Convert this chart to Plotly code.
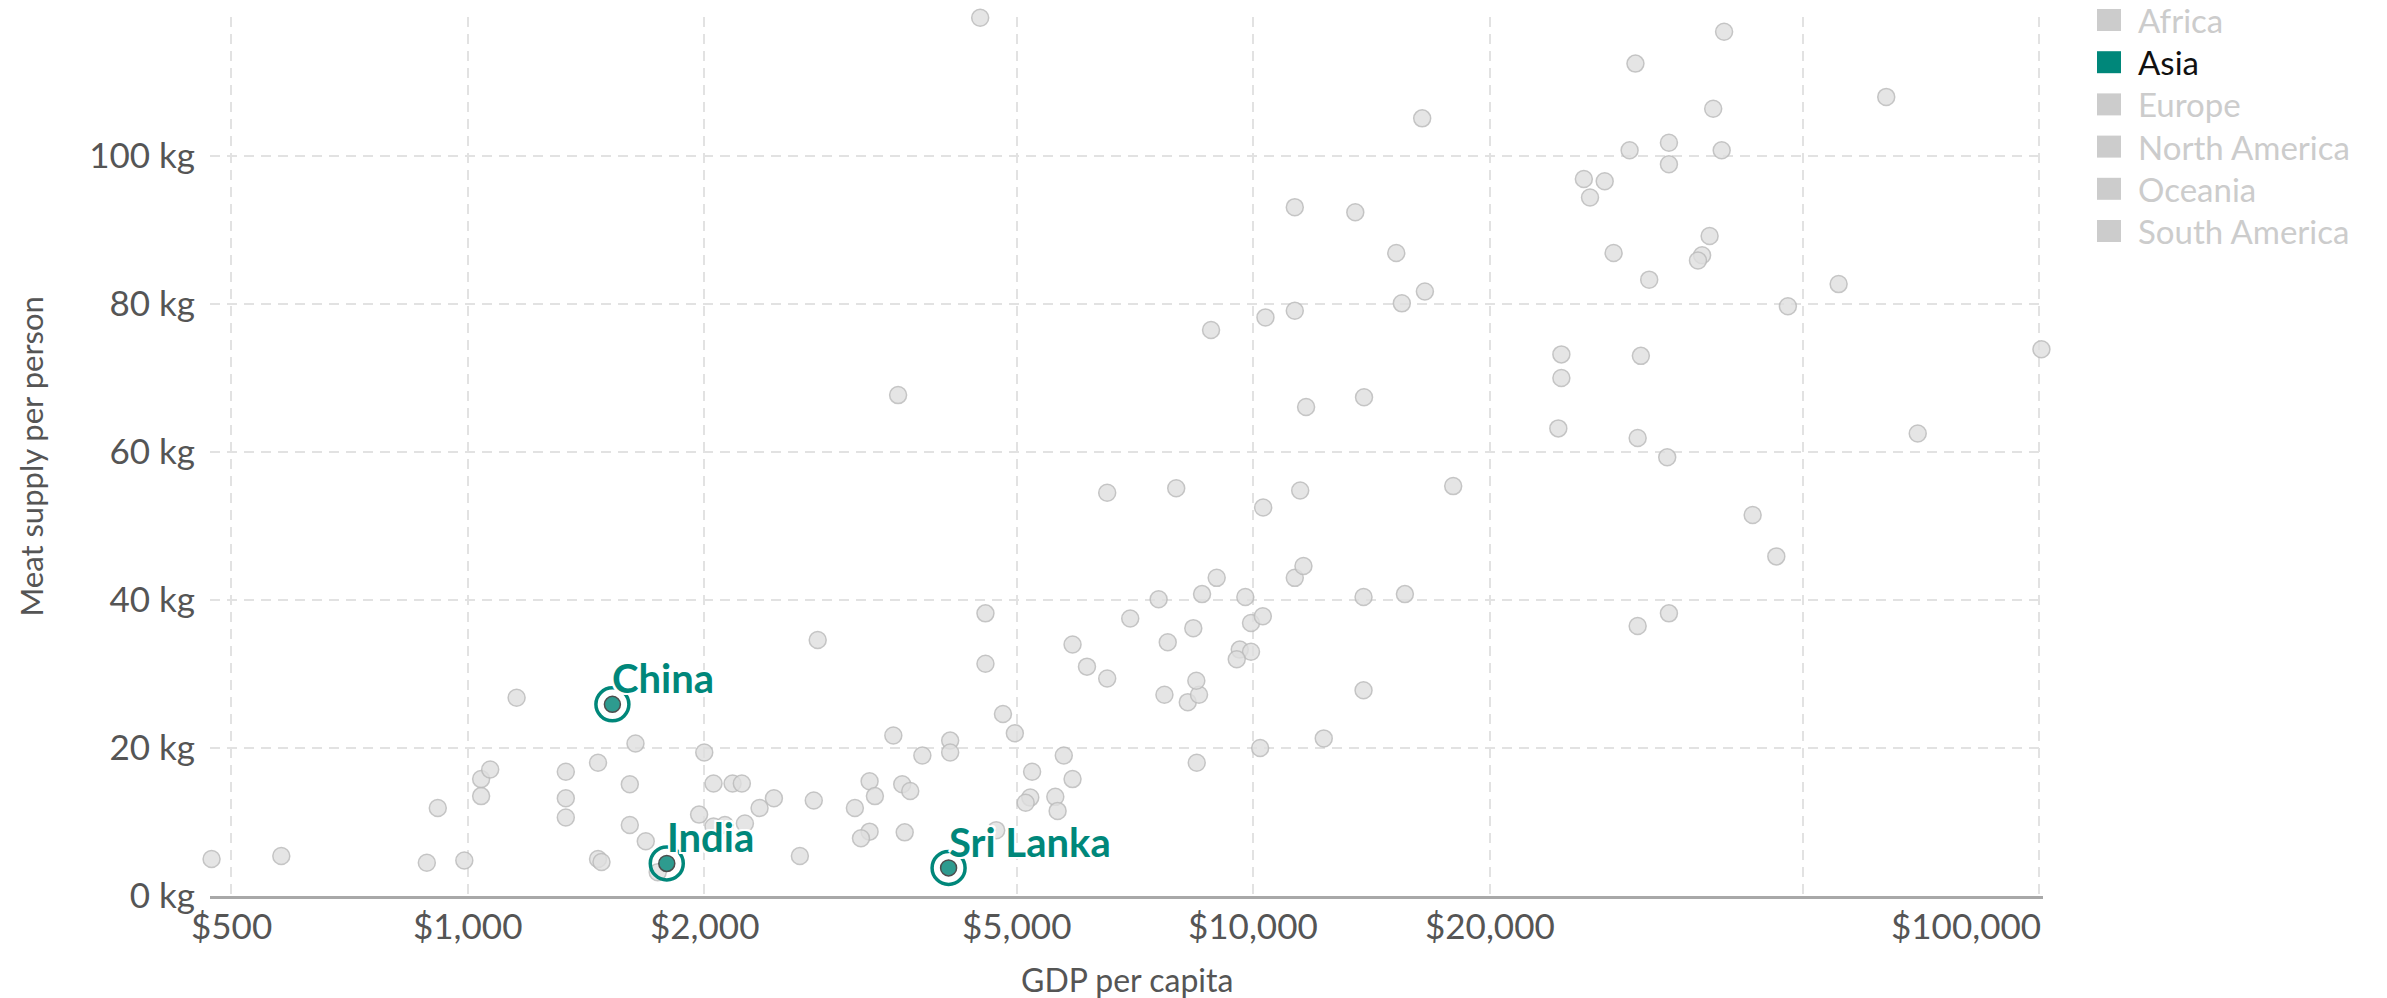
import math
import plotly.graph_objects as go

# ── data ─────────────────────────────────────────────
gdp_other = [
    472, 579, 887, 990, 916, 1040, 1040, 1068, 1154, 1333, 1333, 1333, 1465, 1465, 1480,
    1608, 1608, 1635, 1685, 1745, 2000, 1970, 2055, 2173, 2233, 2453, 2352, 2055, 2125, 2253,
    2647, 2757, 3247, 3298, 3110, 3247, 3166, 3573, 3658, 3599, 3481, 4112, 4112, 3790, 4706,
    5200, 5130, 5596, 5634, 5228, 5886, 5737, 4970, 4800, 2789, 4560, 4560, 3530, 4490, 5886,
    6140, 6515, 6970, 6515, 7976, 7575, 7780, 7705, 8250, 8527, 8460, 8470, 8385, 8603, 8980,
    9766, 9608, 9930, 9524, 9930, 10280, 10290, 11290, 11580, 13810, 15590, 13810, 12290, 10200,
    11470, 17960, 11670, 13830, 8833, 10360, 11290, 15450, 16530, 15200, 11290, 13480, 16400,
    26340, 28000, 26820, 24660, 24660, 24440, 39730, 30640, 63900, 38480, 33800, 30120, 39450,
    33800, 38080, 28740, 37250, 36800, 31900, 55580, 47900, 100700, 31130, 30840, 33630, 70080,
    43200, 46300, 33800, 30840,
]
meat_other = [
    5.0, 5.4, 4.5, 4.8, 11.9, 13.5, 15.8, 17.1, 26.8, 16.8, 13.2, 10.6, 18.0, 5.0, 4.6,
    15.1, 9.6, 20.6, 7.4, 3.2, 19.4, 11.0, 15.2, 15.2, 15.2, 13.2, 11.9, 9.4, 9.6, 9.8,
    5.4, 12.9, 15.5, 13.5, 11.9, 8.7, 7.8, 15.1, 14.2, 8.6, 21.7, 21.0, 19.4, 19.0, 8.9,
    13.3, 12.6, 13.4, 11.5, 16.8, 15.8, 19.0, 22.0, 24.6, 34.6, 38.2, 31.4, 67.7, 118.7, 34.0,
    31.0, 29.4, 37.5, 54.5, 55.1, 40.1, 34.3, 27.2, 26.2, 27.2, 29.1, 18.0, 36.2, 40.8, 43.0,
    40.4, 33.3, 33.0, 32.0, 36.9, 37.8, 52.5, 43.0, 44.6, 40.4, 40.8, 27.8, 21.3, 20.0,
    54.8, 55.4, 66.1, 67.4, 76.5, 78.2, 79.1, 80.1, 81.7, 86.9, 93.1, 92.4, 105.1,
    96.9, 96.6, 94.4, 73.2, 70.0, 63.2, 116.8, 112.5, 108.0, 106.4, 101.8, 100.8, 100.8,
    98.9, 89.2, 86.9, 86.6, 85.9, 83.3, 82.7, 79.7, 73.9, 73.0, 61.9, 59.3, 62.5,
    51.5, 45.9, 38.2, 36.5,
]

asia_names = ["China", "India", "Sri Lanka"]
asia_gdp = [1528, 1792, 4093]
asia_meat = [25.9, 4.4, 3.8]

continents = ["Africa", "Asia", "Europe", "North America", "Oceania", "South America"]
active_continent = "Asia"

x_tickvals = [500, 1000, 2000, 5000, 10000, 20000, 50000, 100000]
x_ticktext = ["$500", "$1,000", "$2,000", "$5,000", "$10,000", "$20,000", "", "$100,000"]
y_tickvals = [0, 20, 40, 60, 80, 100]
y_ticktext = ["0 kg", "20 kg", "40 kg", "60 kg", "80 kg", "100 kg"]

# ── style ────────────────────────────────────────────
W, H = 2387, 998
M_L, M_R, M_T, M_B = 210, 344, 17, 102
PLOT_W = W - M_L - M_R
PLOT_H = H - M_T - M_B

FONT = "Lato, 'Open Sans', sans-serif"
TEAL = "#00877a"
TEAL_DOT = "#2e9b8f"
GREY_TXT = "#555555"
GRID = "#e2e2e2"
HALO = "2px 2px 0 #fff, -2px -2px 0 #fff, 2px -2px 0 #fff, -2px 2px 0 #fff"


def px_x(px):
    return (px - M_L) / PLOT_W


def px_y(py):
    return (H - M_B - py) / PLOT_H


all_x = gdp_other + asia_gdp
all_y = meat_other + asia_meat
# tiny pad so the extreme points are not hidden as "outside the range"
x_rng = [math.log10(min(all_x)) - 0.002, math.log10(max(all_x)) + 0.002]
y_rng = [0, max(all_y) + 0.1]

fig = go.Figure()

fig.add_trace(go.Scatter(
    x=gdp_other, y=meat_other, mode="markers",
    marker=dict(size=17, color="rgba(222,222,222,0.8)",
                line=dict(color="rgba(185,185,185,0.8)", width=1.5)),
    cliponaxis=False, showlegend=False, hoverinfo="x+y",
))
# ring around highlighted countries
fig.add_trace(go.Scatter(
    x=asia_gdp, y=asia_meat, mode="markers",
    marker=dict(size=33, symbol="circle-open", color=TEAL, line=dict(width=3.5)),
    cliponaxis=False, showlegend=False, hoverinfo="skip",
))
fig.add_trace(go.Scatter(
    x=asia_gdp, y=asia_meat, mode="markers", text=asia_names,
    marker=dict(size=16, color=TEAL_DOT, line=dict(color="#4d4d4d", width=1.5)),
    cliponaxis=False, showlegend=False, hovertemplate="%{text}<extra></extra>",
))

annotations = []
for name, gx, my in zip(asia_names, asia_gdp, asia_meat):
    annotations.append(dict(
        x=math.log10(gx), y=my, xref="x", yref="y", text=name, showarrow=False,
        xanchor="left", yanchor="bottom", xshift=-2, yshift=0,
        font=dict(family=FONT, size=40, color=TEAL, weight=700, shadow=HALO),
    ))

# x tick labels
for i, (tv, tt) in enumerate(zip(x_tickvals, x_ticktext)):
    if not tt:
        continue
    anchor = "right" if i == len(x_tickvals) - 1 else "center"
    annotations.append(dict(
        x=math.log10(tv), y=0, xref="x", yref="paper", text=tt, showarrow=False,
        xanchor=anchor, yanchor="top", yshift=-6, xshift=4 if anchor == "right" else 0,
        font=dict(family=FONT, size=35, color=GREY_TXT),
    ))

# axis titles
annotations.append(dict(
    x=0.5, y=0, xref="paper", yref="paper", text="GDP per capita", showarrow=False,
    xanchor="center", yanchor="top", yshift=-62,
    font=dict(family=FONT, size=32, color=GREY_TXT),
))
annotations.append(dict(
    x=0, y=0.5, xref="paper", yref="paper", text="Meat supply per person", showarrow=False,
    xanchor="center", yanchor="middle", xshift=30 - M_L, textangle=-90,
    font=dict(family=FONT, size=31, color=GREY_TXT),
))

# legend (drawn by hand so the squares and colours match)
shapes = []
for i, cont in enumerate(continents):
    cy = 20 + i * 42.2
    on = cont == active_continent
    shapes.append(dict(
        type="rect", xref="paper", yref="paper",
        x0=px_x(2097), x1=px_x(2121), y0=px_y(cy + 11), y1=px_y(cy - 11),
        fillcolor=TEAL if on else "#cccccc", line=dict(width=0),
    ))
    annotations.append(dict(
        x=px_x(2136), y=px_y(cy), xref="paper", yref="paper", text=cont, showarrow=False,
        xanchor="left", yanchor="middle",
        font=dict(family=FONT, size=33, color="#111111" if on else "#cccccc"),
    ))

fig.update_layout(
    width=W, height=H,
    margin=dict(l=M_L, r=M_R, t=M_T, b=M_B),
    paper_bgcolor="white", plot_bgcolor="white",
    font=dict(family=FONT, color=GREY_TXT),
    showlegend=False,
    annotations=annotations,
    shapes=shapes,
    xaxis=dict(
        type="log", range=x_rng,
        tickvals=x_tickvals, showticklabels=False, ticks="",
        showgrid=True, gridcolor=GRID, gridwidth=2, griddash="10px,7px",
        zeroline=False, showline=True, linecolor="#a8a8a8", linewidth=2.5,
    ),
    yaxis=dict(
        range=y_rng,
        tickvals=y_tickvals, ticktext=y_ticktext, ticks="",
        tickfont=dict(family=FONT, size=35, color=GREY_TXT),
        ticklabelstandoff=14,
        showgrid=True, gridcolor=GRID, gridwidth=2, griddash="10px,7px",
        zeroline=False, showline=False,
    ),
)

# page body has an 8px default margin; drop it so the figure sits at the origin
fig.write_html(
    "out.html",
    config={"displayModeBar": False},
    post_script="document.body.style.margin='0';",
)
